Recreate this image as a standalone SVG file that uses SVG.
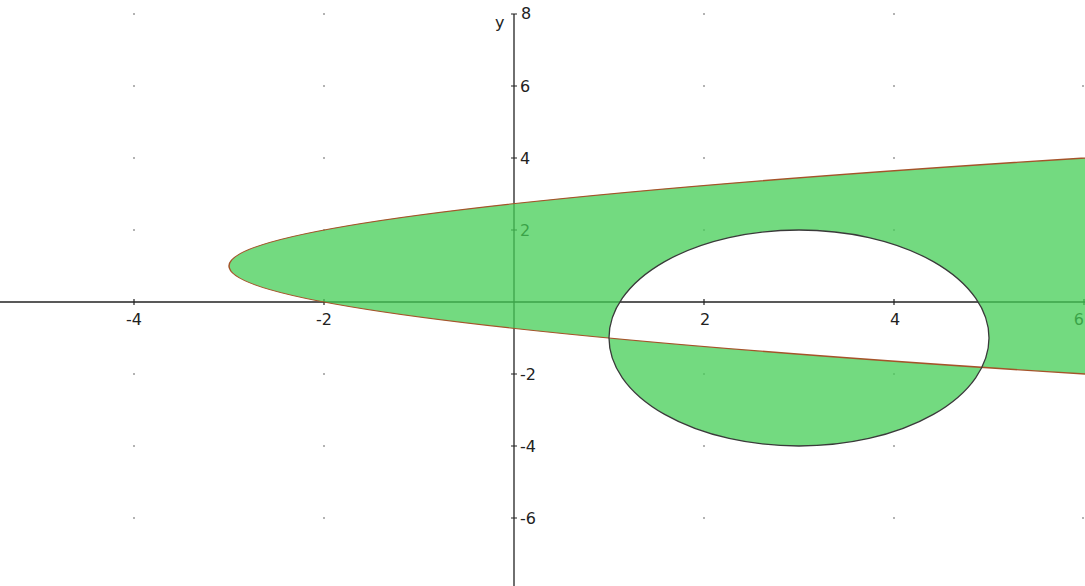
<svg xmlns="http://www.w3.org/2000/svg" width="1085" height="586" viewBox="0 0 1085 586">
<style>
.ax{stroke:#222;stroke-width:1.3;fill:none}
.tk{stroke:#222;stroke-width:1.2}
.lb{font-family:"DejaVu Sans",Verdana,sans-serif;font-size:16px;fill:#222}
.dot{fill:#9a9a9a}
</style>
<rect width="1085" height="586" fill="#fff"/>
<g id="grid">
<circle class="dot" cx="134" cy="14" r="1"/><circle class="dot" cx="324" cy="14" r="1"/><circle class="dot" cx="704" cy="14" r="1"/><circle class="dot" cx="894" cy="14" r="1"/>
<circle class="dot" cx="134" cy="86" r="1"/><circle class="dot" cx="324" cy="86" r="1"/><circle class="dot" cx="704" cy="86" r="1"/><circle class="dot" cx="894" cy="86" r="1"/><circle class="dot" cx="1083" cy="86" r="1"/>
<circle class="dot" cx="134" cy="158" r="1"/><circle class="dot" cx="324" cy="158" r="1"/><circle class="dot" cx="704" cy="158" r="1"/><circle class="dot" cx="894" cy="158" r="1"/>
<circle class="dot" cx="134" cy="230" r="1"/><circle class="dot" cx="324" cy="230" r="1"/><circle class="dot" cx="704" cy="230" r="1"/><circle class="dot" cx="894" cy="230" r="1"/>
<circle class="dot" cx="134" cy="374" r="1"/><circle class="dot" cx="324" cy="374" r="1"/><circle class="dot" cx="704" cy="374" r="1"/><circle class="dot" cx="894" cy="374" r="1"/>
<circle class="dot" cx="134" cy="446" r="1"/><circle class="dot" cx="324" cy="446" r="1"/><circle class="dot" cx="704" cy="446" r="1"/><circle class="dot" cx="894" cy="446" r="1"/>
<circle class="dot" cx="134" cy="518" r="1"/><circle class="dot" cx="324" cy="518" r="1"/><circle class="dot" cx="704" cy="518" r="1"/><circle class="dot" cx="894" cy="518" r="1"/><circle class="dot" cx="1083" cy="518" r="1"/>
</g>
<g id="axes">
<line class="ax" x1="0" y1="302" x2="1085" y2="302"/>
<line class="ax" x1="514" y1="14" x2="514" y2="586"/>
<path class="tk" d="M134,299v6M324,299v6M704,299v6M894,299v6M1084,299v6M511,14h6M511,86h6M511,158h6M511,230h6M511,374h6M511,446h6M511,518h6"/>
</g>
<g id="labels">
<text class="lb" x="134" y="325" text-anchor="middle">-4</text>
<text class="lb" x="324" y="325" text-anchor="middle">-2</text>
<text class="lb" x="705" y="325" text-anchor="middle">2</text>
<text class="lb" x="895" y="325" text-anchor="middle">4</text>
<text class="lb" x="1084" y="325" text-anchor="end">6</text>
<text class="lb" x="521" y="19">8</text>
<text class="lb" x="520" y="92">6</text>
<text class="lb" x="520" y="164">4</text>
<text class="lb" x="520" y="236">2</text>
<text class="lb" x="520" y="380">-2</text>
<text class="lb" x="520" y="452">-4</text>
<text class="lb" x="520" y="524">-6</text>
<text class="lb" x="495" y="28">y</text>
</g>
<g id="region">
<path d="M1749,122 Q-1291,266 1749,410 Z M609,338 A190,108 0 1,0 989,338 A190,108 0 1,0 609,338 Z" fill="#44cd55" fill-opacity="0.75" fill-rule="evenodd"/>
</g>
<g id="curves">
<path id="parabola" d="M1749,122 Q-1291,266 1749,410" fill="none" stroke="#a5532a" stroke-width="1.5"/>
<ellipse id="circle" cx="799" cy="338" rx="190" ry="108" fill="none" stroke="#3a3a3a" stroke-width="1.3"/>
</g>
</svg>
